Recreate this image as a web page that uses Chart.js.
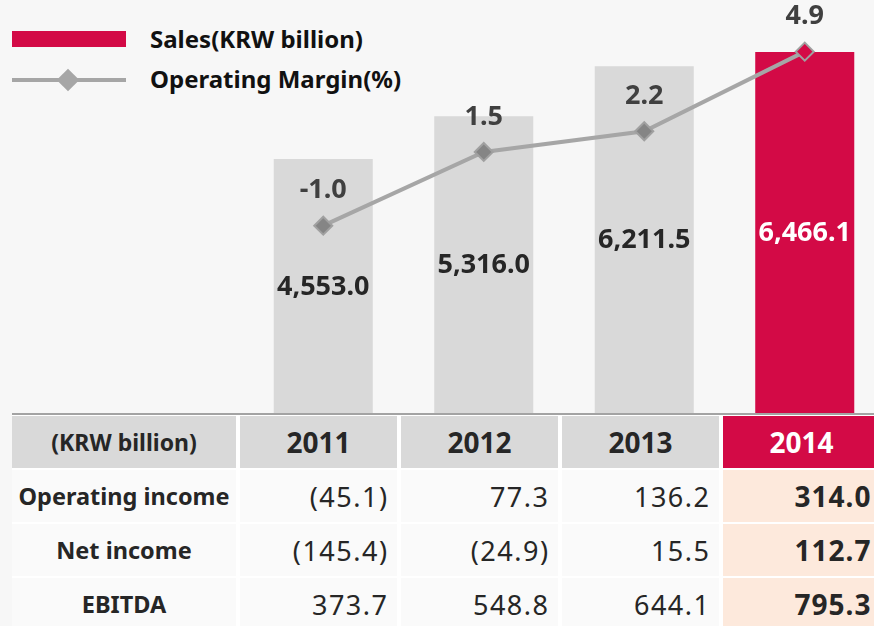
<!DOCTYPE html>
<html lang="en">
<head>
    <meta charset="UTF-8">
    <title>Sales and Operating Margin</title>
    <script src="https://cdn.jsdelivr.net/npm/chart.js"></script>
    <style>
        html, body {
            margin: 0;
            padding: 0;
            width: 874px;
            height: 626px;
            overflow: hidden;
            background: #f7f7f7;
            font-family: "Noto Sans", "Open Sans", sans-serif;
            color: #262626;
        }
        #chartBox {
            position: absolute;
            left: 243px;
            top: 0;
            width: 642px;
            height: 413px;
        }
        .legend-item {
            position: absolute;
            left: 12px;
            font-weight: bold;
            font-size: 24px;
            color: #111;
        }
        .legend-item span {
            position: absolute;
            left: 138px;
            white-space: nowrap;
            line-height: 1;
        }
        #legSales { top: 31px; }
        #legSales i {
            position: absolute;
            left: 0; top: 0;
            width: 114px; height: 16px;
            background: #d30a46;
        }
        #legSales span { top: -4px; }
        #legMargin { top: 78px; }
        #legMargin i {
            position: absolute;
            left: 0; top: 0;
            width: 114px; height: 4px;
            background: #a6a6a6;
        }
        #legMargin b {
            position: absolute;
            left: 48px; top: -6px;
            width: 16px; height: 16px;
            background: #a6a6a6;
            transform: rotate(45deg);
        }
        #legMargin span { top: -11px; }
        #table {
            position: absolute;
            left: 12px;
            top: 413px;
            width: 880px;
            border-top: 2px solid #a3a3a3;
            padding-top: 1px;
            background: #fff;
            display: grid;
            grid-template-columns: 224px 157px 157px 157px 157px;
            grid-auto-rows: 52px;
            column-gap: 4px;
            row-gap: 2px;
        }
        #table div {
            display: flex;
            align-items: center;
            background: #fafafa;
            box-sizing: border-box;
        }
        #table .hd {
            background: #d9d9d9;
            justify-content: center;
            font-weight: bold;
            font-size: 28px;
        }
        #table .hd.first { font-size: 23px; }
        #table .hd.hl { background: #d30a46; color: #fff; }
        #table .lab {
            justify-content: center;
            font-weight: bold;
            font-size: 23.5px;
        }
        #table .val {
            justify-content: flex-end;
            padding-right: 8.5px;
            font-size: 27px;
            letter-spacing: 1.5px;
        }
        #table .val.hl {
            background: #fde9dc;
            font-weight: bold;
            font-size: 28px;
            letter-spacing: 1px;
        }
    </style>
</head>
<body>
    <div id="legSales" class="legend-item"><i></i><span>Sales(KRW billion)</span></div>
    <div id="legMargin" class="legend-item"><i></i><b></b><span>Operating Margin(%)</span></div>

    <div id="chartBox"><canvas id="salesChart"></canvas></div>

    <div id="table"></div>

    <script>
        const years = ["2011", "2012", "2013", "2014"];
        const sales = [4553.0, 5316.0, 6211.5, 6466.1];
        const margin = [-1.0, 1.5, 2.2, 4.9];

        const rowNames = ["Operating income", "Net income", "EBITDA"];
        const operatingIncome = ["(45.1)", "77.3", "136.2", "314.0"];
        const netIncome = ["(145.4)", "(24.9)", "15.5", "112.7"];
        const ebitda = ["373.7", "548.8", "644.1", "795.3"];
        const tableUnit = "(KRW billion)";

        const red = "#d30a46";
        const grey = "#d9d9d9";
        const barColors = years.map((y, i) => i === years.length - 1 ? red : grey);

        // table below the chart
        const table = document.getElementById("table");
        function cell(text, cls) {
            const d = document.createElement("div");
            d.className = cls;
            d.textContent = text;
            table.appendChild(d);
        }
        cell(tableUnit, "hd first");
        years.forEach((y, i) => cell(y, i === years.length - 1 ? "hd hl" : "hd"));
        [operatingIncome, netIncome, ebitda].forEach((row, r) => {
            cell(rowNames[r], "lab");
            row.forEach((v, i) => cell(v, i === years.length - 1 ? "val hl" : "val"));
        });

        const fmt = v => v.toLocaleString("en-US", { minimumFractionDigits: 1, maximumFractionDigits: 1 });

        // value labels: sales in the middle of the bar, margin above the point
        const labelPlugin = {
            id: "valueLabels",
            afterDatasetsDraw(chart) {
                const c = chart.ctx;
                c.save();
                c.textAlign = "center";
                c.textBaseline = "middle";
                const bars = chart.getDatasetMeta(1).data;
                c.font = "bold 27px 'Noto Sans'";
                bars.forEach((b, i) => {
                    c.fillStyle = i === years.length - 1 ? "#ffffff" : "#262626";
                    c.fillText(fmt(sales[i]), b.x, (b.y + b.base) / 2 + 1);
                });
                const pts = chart.getDatasetMeta(0).data;
                c.fillStyle = "#404040";
                pts.forEach((p, i) => {
                    c.fillText(margin[i].toFixed(1), p.x, p.y - 35);
                });
                c.restore();
            }
        };

        const ctx = document.getElementById("salesChart").getContext("2d");
        new Chart(ctx, {
            data: {
                labels: years,
                datasets: [{
                    type: "line",
                    label: "Operating Margin(%)",
                    data: margin,
                    yAxisID: "y2",
                    order: 0,
                    borderColor: "#a6a6a6",
                    borderWidth: 4,
                    pointStyle: "rectRot",
                    pointRadius: 9,
                    pointBorderWidth: 2,
                    pointBackgroundColor: ["#858585", "#858585", "#858585", red],
                    pointBorderColor: "#a0a0a0",
                    clip: false
                }, {
                    type: "bar",
                    label: "Sales(KRW billion)",
                    data: sales,
                    yAxisID: "y",
                    order: 1,
                    backgroundColor: barColors,
                    barPercentage: 0.617,
                    categoryPercentage: 1
                }]
            },
            options: {
                responsive: true,
                maintainAspectRatio: false,
                animation: false,
                layout: { padding: 0, autoPadding: false },
                plugins: {
                    legend: { display: false },
                    tooltip: { enabled: false }
                },
                scales: {
                    x: { display: false, offset: true },
                    y: { display: false, min: 0, max: 7400 },
                    y2: { display: false, min: -7.35, max: 6.65 }
                }
            },
            plugins: [labelPlugin]
        });
    </script>
</body>
</html>
